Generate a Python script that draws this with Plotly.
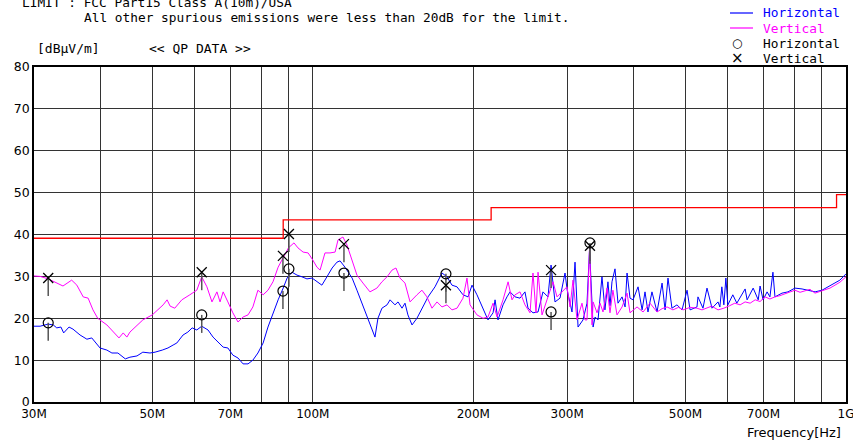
import math
import plotly.graph_objects as go

# ---------------- data ----------------
# Vertical polarisation sweep (magenta), MHz / dBuV/m
vert_freq = [30.0, 30.8, 31.9, 32.8, 34.0, 35.3, 36.1, 37.1, 37.9, 38.7, 39.5, 41.1, 42.2, 43.3, 44.1, 44.8, 45.4,
             46.4, 48.0, 50.0, 51.2, 52.4, 53.3, 54.0, 55.1, 56.8, 58.8, 60.6, 61.9, 63.3, 64.7, 66.1, 67.0, 67.9,
             69.3, 70.8, 72.4, 74.0, 75.6, 77.2, 78.9, 80.7, 82.4, 84.2, 86.1, 88.0, 90.0, 92.2, 93.8, 95.9, 98.0,
             100.0, 101.8, 103.2, 105.4, 107.7, 110.1, 111.5, 113.9, 115.9, 118.5, 121.0, 124.2, 128.0, 131.9,
             134.8, 137.8, 140.8, 143.2, 145.7, 148.9, 152.2, 156.8, 160.2, 163.7, 167.3, 171.0, 174.7, 178.5,
             182.4, 186.4, 191.3, 194.6, 197.2, 203.2, 208.6, 213.1, 217.8, 221.6, 227.4, 232.4, 236.4, 239.5,
             244.7, 250.0, 255.5, 258.8, 262.2, 264.5, 269.1, 274.9, 278.6, 282.2, 287.1, 293.3, 299.7, 303.7,
             307.6, 313.0, 319.8, 324.0, 326.8, 330.4, 334.0, 335.5, 341.2, 345.7, 350.2, 356.3, 360.9, 365.5,
             372.0, 380.2, 388.5, 393.5, 405.6, 416.3, 429.0, 442.2, 452.0, 461.8, 473.6, 485.0, 494.8, 510.0,
             525.4, 537.0, 548.7, 560.0, 575.4, 590.1, 605.0, 618.7, 633.0, 646.8, 661.0, 675.5, 690.0, 705.0,
             720.0, 735.8, 752.0, 768.5, 785.0, 802.0, 820.0, 838.0, 856.0, 874.8, 894.0, 913.6, 933.0, 953.5,
             974.0, 1000.0]
vert_level = [30.1, 30.0, 29.4, 28.7, 27.7, 29.1, 27.9, 25.1, 24.8, 22.0, 20.0, 18.4, 16.7, 15.3, 16.5, 15.5, 16.7,
              17.9, 19.6, 20.8, 22.0, 23.2, 24.4, 22.9, 22.4, 24.4, 25.6, 26.7, 29.9, 27.5, 23.9, 26.3, 23.9, 26.3,
              23.9, 21.3, 19.1, 20.3, 20.8, 22.7, 26.7, 25.6, 26.7, 28.7, 32.2, 34.6, 36.8, 38.0, 36.8, 35.8, 35.6,
              33.9, 32.2, 31.5, 35.6, 35.6, 35.8, 38.7, 39.4, 37.5, 33.9, 30.3, 28.4, 26.3, 27.2,
              28.7, 29.9, 31.5, 32.0, 29.6, 28.4, 23.9, 25.6, 26.7, 25.1, 22.4, 23.9, 22.7, 23.2,
              22.0, 22.4, 24.8, 29.6, 23.2, 20.8, 20.0, 20.3, 23.6, 20.3, 24.4, 28.7, 24.4, 25.6,
              26.3, 23.2, 21.3, 30.8, 21.3, 31.0, 20.8, 24.4, 26.7, 28.7, 25.1, 26.3, 27.5, 22.7,
              29.1, 19.6, 23.6, 19.6, 19.6, 37.0, 18.4, 23.9, 21.3, 23.6, 21.5, 27.2, 21.3, 26.7,
              20.8, 22.7, 26.0, 21.3, 22.7, 21.5, 23.6, 21.5, 22.3, 22.7, 22.0, 22.6, 22.0, 22.6,
              22.4, 22.0, 22.4, 22.9, 22.0, 22.4, 23.0, 23.6, 23.2, 23.9, 23.6, 24.4, 24.0, 25.1,
              24.6, 25.1, 25.4, 25.8, 26.2, 26.7, 26.2, 26.5, 26.9, 26.0, 26.4, 26.7, 27.2, 27.9,
              28.6, 29.9]

# Horizontal polarisation sweep (blue), MHz / dBuV/m
horz_freq = [30.0, 30.8, 31.9, 32.6, 33.1, 33.7, 34.1, 34.9, 35.5, 36.6, 37.7, 38.5, 39.9, 41.1, 42.0, 43.1, 44.5,
             45.4, 46.8, 48.0, 49.5, 50.6, 52.2, 53.5, 54.7, 55.6, 57.1, 58.3, 59.4, 60.6, 61.9, 63.6, 65.0, 66.4,
             67.9, 69.3, 70.8, 72.4, 74.0, 75.6, 77.2, 78.9, 80.7, 82.4, 84.2, 86.1, 88.0, 89.5, 91.4, 93.4, 95.4,
             97.5, 99.7, 101.8, 104.0, 106.3, 108.7, 111.0, 112.5, 114.9, 118.5, 121.0, 123.7, 126.4, 129.1, 130.8,
             132.5, 134.8, 137.8, 139.6, 142.6, 144.5, 147.0, 148.9, 150.8, 153.5, 156.8, 160.2, 164.5, 169.5,
             174.7, 178.5, 182.4, 186.4, 191.3, 195.5, 198.9, 203.2, 208.6, 213.1, 217.8, 219.7, 222.5, 227.4,
             231.3, 234.4, 239.5, 244.7, 250.0, 253.3, 258.8, 264.5, 270.2, 276.1, 279.8, 284.6, 290.8, 297.2,
             300.0, 306.3, 310.3, 314.4, 321.2, 326.8, 330.4, 335.5, 338.4, 342.7, 348.6, 353.1, 357.7, 360.9,
             364.0, 368.8, 373.6, 380.2, 385.2, 388.5, 393.5, 398.6, 407.4, 414.6, 419.8, 425.2, 432.6, 442.2,
             451.9, 457.8, 463.6, 471.6, 481.9, 492.6, 503.4, 510.0, 525.4, 527.7, 539.2, 548.7, 560.7, 575.4,
             580.0, 585.0, 590.1, 595.3, 600.5, 613.4, 624.1, 638.5, 646.9, 652.4, 669.7, 684.5, 690.0, 699.0,
             711.2, 720.0, 729.4, 735.8, 758.5, 778.5, 802.0, 827.1, 848.9, 875.0, 901.8, 925.5, 953.5, 974.0,
             1000.0]
horz_level = [18.1, 18.1, 18.6, 18.4, 17.7, 17.9, 16.5, 17.9, 17.4, 16.0, 15.0, 15.3, 12.9, 12.4, 11.7, 11.7, 10.3,
              10.7, 11.0, 11.9, 11.7, 11.9, 12.4, 12.9, 13.6, 14.1, 16.0, 16.7, 17.7, 17.2, 18.1, 17.2, 15.5, 14.3,
              13.1, 12.9, 11.2, 10.5, 9.1, 9.1, 10.0, 11.7, 14.1, 17.9, 21.3, 24.4, 27.2, 29.6, 31.0, 30.3, 29.9,
              29.4, 29.6, 28.7, 27.9, 29.9, 32.0, 33.4, 33.7, 32.2, 29.6, 26.7, 23.6, 20.3, 17.2, 15.5,
              20.0, 22.4, 23.2, 24.4, 23.2, 23.9, 22.4, 23.6, 20.8, 18.4, 20.0, 22.4, 25.1, 27.5,
              30.8, 29.9, 27.9, 27.5, 25.6, 25.1, 27.9, 25.6, 22.4, 19.6, 21.3, 24.4, 19.6, 23.2,
              25.1, 26.3, 25.1, 24.8, 26.3, 22.4, 21.3, 21.5, 26.3, 25.1, 32.7, 23.9, 24.8, 30.8,
              26.7, 21.5, 33.4, 17.9, 19.6, 23.6, 36.5, 17.9, 20.3, 19.6, 29.9, 22.0, 28.7, 23.0,
              28.7, 31.8, 23.6, 25.1, 22.7, 30.8, 24.8, 24.4, 27.5, 22.0, 26.3, 21.5, 26.3, 21.5,
              28.4, 22.0, 29.6, 22.4, 23.2, 22.0, 26.7, 22.0, 22.7, 25.1, 22.4, 27.2, 22.4, 23.9,
              22.7, 27.5, 23.2, 29.6, 23.2, 25.6, 23.6, 26.0, 27.0, 24.4, 27.2, 24.4, 27.7, 24.4,
              26.3, 25.1, 31.0, 25.1, 26.0, 26.3, 27.2, 27.0, 26.7, 26.3, 26.7, 27.5, 28.4, 29.1,
              30.6]

# Limit line FCC Part15 Class A (10m)
limit_freq = [30.0, 88.0, 216.0, 960.0, 1000.0]
limit_level = [39.1, 43.5, 46.4, 49.5, 49.5]

# QP data points
qp_freq = [31.9, 61.9, 87.9, 90.2, 114.4, 177.7, 279.8, 331.0]
qp_vert = [29.6, 31.0, 34.9, 40.1, 37.7, 27.9, 31.5, 37.3]
qp_horz = [18.9, 20.8, 26.5, 31.8, 30.8, 30.6, 21.5, 38.0]

grid_freq = [30, 40, 50, 60, 70, 80, 90, 100, 200, 300, 400, 500, 600, 700, 800, 900, 1000]
grid_text = ["30M", "", "50M", "", "70M", "", "", "100M", "200M", "300M", "", "500M", "", "700M", "", "", "1G"]
y_ticks = [0, 10, 20, 30, 40, 50, 60, 70, 80]

# ---------------- styling ----------------
W, H = 853, 443
L, R, T, B = 34, 7, 67, 41
PW, PH = W - L - R, H - T - B
STEM = 4.3
BLUE = "#0000ff"
MAG = "#ff00ff"
MONO = "DejaVu Sans Mono"
SANS = "DejaVu Sans"


def px(x):
    return (x - L) / PW


def py(y):
    return (H - B - y) / PH


fig = go.Figure()

fig.add_trace(go.Scatter(x=limit_freq, y=limit_level, mode="lines", line=dict(color="#ff0000", width=1.3, shape="hv"),
                         hoverinfo="skip"))
fig.add_trace(go.Scatter(x=horz_freq, y=horz_level, mode="lines", line=dict(color=BLUE, width=1)))
fig.add_trace(go.Scatter(x=vert_freq, y=vert_level, mode="lines", line=dict(color=MAG, width=1)))

sx, sy = [], []
for f, a, b in zip(qp_freq, qp_vert, qp_horz):
    for v in (a, b):
        sx += [f, f, None]
        sy += [v, v - STEM, None]
fig.add_trace(go.Scatter(x=sx, y=sy, mode="lines", line=dict(color="#555555", width=1.5)))
fig.add_trace(go.Scatter(x=qp_freq, y=qp_horz, mode="markers",
                         marker=dict(symbol="circle-open", size=10, color="#000000", line=dict(width=1.2))))
fig.add_trace(go.Scatter(x=qp_freq, y=qp_vert, mode="markers",
                         marker=dict(symbol="x-thin-open", size=10, color="#000000", line=dict(width=1.3, color="#000000"))))

ann = []


def text(x, y, s, color="#000000", size=12.8, family=MONO, xanchor="left"):
    ann.append(dict(x=px(x), y=py(y), xref="paper", yref="paper", text=s, showarrow=False,
                    xanchor=xanchor, yanchor="middle", font=dict(family=family, size=size, color=color)))


text(20, 2.7, "LIMIT : FCC Part15 Class A(10m)/USA")
text(82, 18, "All other spurious emissions were less than 20dB for the limit.")
text(35, 48.5, "[dBμV/m]", size=13)
text(147, 48.5, "&lt;&lt; QP DATA &gt;&gt;", size=13)
text(761, 12.8, "Horizontal", color=BLUE)
text(761, 28, "Vertical", color=MAG)
text(737, 43, "○", size=12, family=SANS, xanchor="center")
text(761, 43.5, "Horizontal")
text(737, 58, "×", size=15, family=SANS, xanchor="center")
text(761, 58.5, "Vertical")
text(843, 432, "Frequency[Hz]", size=13, family=SANS, xanchor="right")

shapes = [
    dict(type="line", xref="paper", yref="paper", x0=px(730), x1=px(753), y0=py(13), y1=py(13),
         line=dict(color=BLUE, width=1.2)),
    dict(type="line", xref="paper", yref="paper", x0=px(730), x1=px(753), y0=py(28), y1=py(28),
         line=dict(color=MAG, width=1.2)),
]

fig.update_layout(
    width=W, height=H, margin=dict(l=L, r=R, t=T, b=B, autoexpand=False),
    paper_bgcolor="white", plot_bgcolor="white", showlegend=False,
    annotations=ann, shapes=shapes,
    xaxis=dict(type="log", range=[math.log10(30), 3], tickmode="array", tickvals=grid_freq, ticktext=grid_text,
               showgrid=True, gridcolor="#333333", gridwidth=1, showline=True, linecolor="#000000", linewidth=1.5,
               mirror=True, ticks="", zeroline=False, automargin=False, ticklabeloverflow="allow",
               tickfont=dict(family=SANS, size=12, color="#000000")),
    yaxis=dict(range=[0, 80], tickmode="array", tickvals=y_ticks, showgrid=True, gridcolor="#333333", gridwidth=1,
               showline=True, linecolor="#000000", linewidth=1.5, mirror=True, ticks="", zeroline=False,
               automargin=False, ticklabeloverflow="allow",
               tickfont=dict(family=SANS, size=12.5, color="#000000")),
)

fig.write_html("out.html")
